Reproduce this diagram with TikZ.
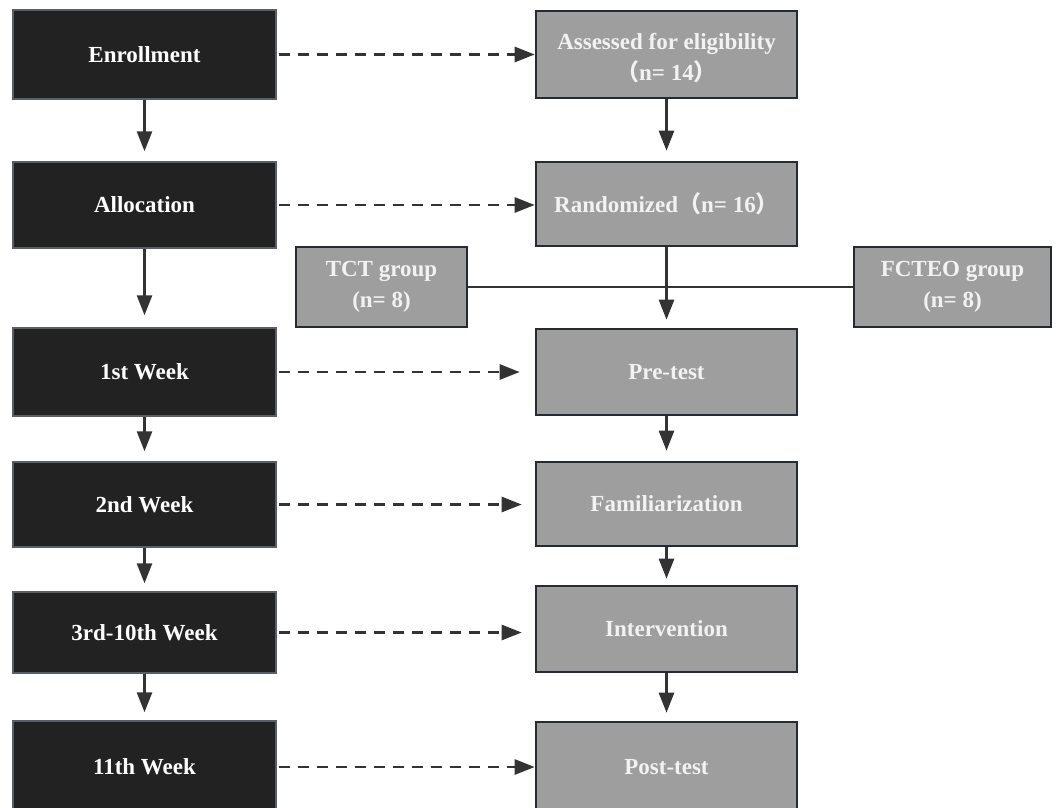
\documentclass[tikz,border=0pt]{standalone}
\usepackage{fontspec}
\setmainfont{Liberation Serif}
\newfontfamily\cjk{Noto Sans CJK SC}
\usetikzlibrary{arrows.meta}
\definecolor{darkbox}{HTML}{222222}
\definecolor{darkedge}{HTML}{5A5F66}
\definecolor{greybox}{HTML}{9E9E9E}
\definecolor{greyedge}{HTML}{262B33}
\definecolor{conn}{HTML}{333333}
\newcommand{\lp}{{\cjk （}}
\newcommand{\rp}{{\cjk ）}}
\newcommand{\lowered}[1]{\raisebox{-3.5pt}[\height][\depth]{#1}}
\tikzset{
  boxtext/.style={font=\fontsize{23}{31}\selectfont\bfseries, align=center, inner sep=0pt},
  darknode/.style={boxtext, rectangle, fill=darkbox, draw=darkedge, line width=1.4pt, text=white, minimum width=263pt},
  greynode/.style={boxtext, rectangle, fill=greybox, draw=greyedge, line width=2.6pt, text=white!95!black, minimum width=261pt},
  flowarrow/.style={draw=conn, line width=2.6pt, -{Triangle[length=20pt,width=15pt]}},
  dasharrow/.style={flowarrow, dash pattern=on 11pt off 8pt},
  plainline/.style={draw=conn, line width=2.6pt}
}
\begin{document}
\begin{tikzpicture}[x=1pt,y=-1pt]
\useasboundingbox (0,0) rectangle (1057,808);
% left column
\node[darknode, minimum height=89pt] (enr) at (144.5,54.5) {Enrollment};
\node[darknode, minimum height=86pt] (all) at (144.5,205) {Allocation};
\node[darknode, minimum height=88pt] (w1) at (144.5,372) {1st Week};
\node[darknode, minimum height=85pt] (w2) at (144.5,504.5) {2nd Week};
\node[darknode, minimum height=81pt] (w3) at (144.5,632.5) {3rd-10th Week};
\node[darknode, minimum height=92pt] (w11) at (144.5,767) {11th Week};
% right column
\node[greynode, minimum height=87pt] (ass) at (666.5,54.5) {\lowered{Assessed for eligibility}\\\lowered{\lp n= 14\rp}};
\node[greynode, minimum height=84pt] (ran) at (666.5,204) {Randomized\lp n= 16\rp};
\node[greynode, minimum height=86pt] (pre) at (666.5,372) {Pre-test};
\node[greynode, minimum height=84pt] (fam) at (666.5,504) {Familiarization};
\node[greynode, minimum height=86pt] (int) at (666.5,629) {Intervention};
\node[greynode, minimum height=90pt] (post) at (666.5,767) {Post-test};
% groups
\node[greynode, minimum width=171pt, minimum height=80pt] (tct) at (381.5,287) {TCT group\\(n= 8)};
\node[greynode, minimum width=197pt, minimum height=80pt] (fct) at (952.5,287) {FCTEO group\\(n= 8)};
% connectors left
\draw[flowarrow, shorten >=10pt] (enr) -- (all);
\draw[flowarrow, shorten >=12pt] (all) -- (w1);
\draw[flowarrow, shorten >=10pt] (w1) -- (w2);
\draw[flowarrow, shorten >=8pt] (w2) -- (w3);
\draw[flowarrow, shorten >=8pt] (w3) -- (w11);
% connectors right
\draw[flowarrow, shorten >=10pt] (ass) -- (ran);
\draw[plainline] (tct.east) -- (fct.west);
\draw[flowarrow, shorten >=8pt] (ran) -- (pre);
\draw[flowarrow, shorten >=10pt] (pre) -- (fam);
\draw[flowarrow, shorten >=6pt] (fam) -- (int);
\draw[flowarrow, shorten >=8pt] (int) -- (post);
% dashed
\draw[dasharrow, shorten <=2pt] (enr) -- (ass);
\draw[dasharrow, shorten <=2pt] (all.east) -- (ran.west |- all.east);
\draw[dasharrow, shorten <=2pt, shorten >=15pt] (w1) -- (pre);
\draw[dasharrow, shorten <=2pt, shorten >=13pt] (w2.east) -- (fam.west |- w2.east);
\draw[dasharrow, shorten <=2pt, shorten >=13pt] (w3.east) -- (int.west |- w3.east);
\draw[dasharrow, shorten <=2pt] (w11) -- (post);
\end{tikzpicture}
\end{document}
